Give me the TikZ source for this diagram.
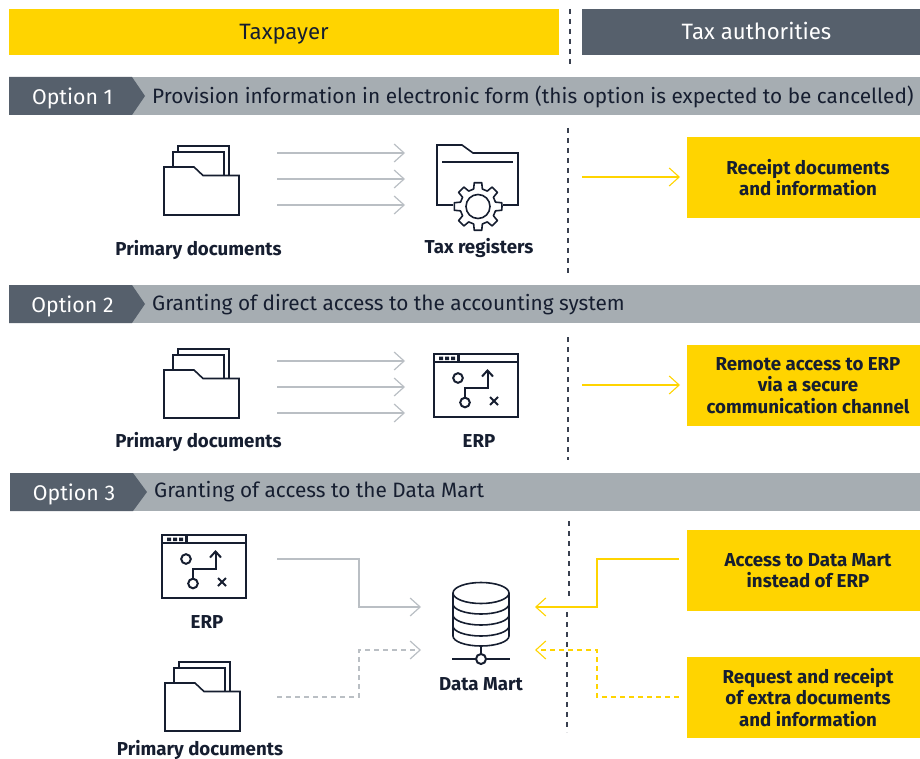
\documentclass[tikz,border=0pt]{standalone}
\usepackage{fontspec}
\setmainfont{Fira Sans}
\usepackage{tikz}
\usetikzlibrary{arrows.meta}
\definecolor{TaxYellow}{RGB}{255,212,0}
\definecolor{TaxDark}{RGB}{86,96,108}
\definecolor{TaxGrey}{RGB}{166,173,178}
\definecolor{TaxInk}{RGB}{22,30,48}
\definecolor{TaxLine}{RGB}{186,191,196}
\tikzset{
  hdr/.style={rectangle,minimum height=46pt,inner sep=0pt,text height=19pt,text depth=4pt,font=\fontsize{22.2}{24}\selectfont},
  bar/.style={rectangle,fill=TaxGrey,minimum height=38pt,inner sep=0pt},
  optlabel/.style={text=white,font=\fontsize{21.3}{24}\selectfont,inner sep=0pt},
  opttitle/.style={text=TaxInk,font=\fontsize{20.8}{24}\selectfont,inner sep=0pt,anchor=west},
  lbl/.style={text=TaxInk,font=\fontsize{18.7}{20}\selectfont\bfseries,inner sep=0pt},
  box/.style={rectangle,fill=TaxYellow,text=TaxInk,minimum width=233pt,minimum height=81pt,inner sep=0pt,align=center,font=\fontsize{18.7}{21.5}\selectfont\bfseries},
  sep/.style={TaxInk!85,line width=1.5pt,dash pattern=on 5pt off 5pt},
  flow/.style={TaxLine,line width=1.2pt,-{Straight Barb[length=10pt,width=18pt,line width=1.2pt]}},
  yflow/.style={TaxYellow,line width=1.1pt,-{Straight Barb[length=10pt,width=18pt,line width=1.1pt]}},
  icon/.style={TaxInk,line width=1.6pt},
  folderpic/.pic={
    \draw[icon] (14,8) -- (14,-21) -- (65,-21) -- (65,8);
    \draw[icon,fill=white] (9,8) -- (9,-15) -- (60,-15) -- (60,8);
    \draw[icon,fill=white] (0,48) -- (0,0) -- (30,0) -- (39,8.5) -- (75,8.5) -- (75,48) -- cycle;
  },
  erppic/.pic={
    \draw[icon,line width=2pt] (0,0) rectangle (84,63);
    \draw[icon,line width=2pt] (0,8) -- (84,8);
    \draw[icon,line width=3pt] (24,0) -- (24,8);
    \fill[TaxInk] (5,2.5) rectangle (9,6) (11,2.5) rectangle (15,6) (17,2.5) rectangle (21,6);
    \draw[icon,line width=2pt] (24,24) circle (4.8pt);
    \draw[icon,line width=2pt] (31,48.5) circle (4.8pt);
    \draw[icon,line width=2pt] (31,43.7) -- (31,33.5) -- (53.5,33.5) -- (53.5,17);
    \draw[icon,line width=2pt] (48,22.5) -- (53.5,16.5) -- (59,22.5);
    \draw[icon,line width=2pt] (56,43) -- (64,51) (56,51) -- (64,43);
  },
}
\begin{document}
\begin{tikzpicture}[x=1pt,y=-1pt]
  \useasboundingbox (0,0) rectangle (920,759);
  % header
  \node[hdr,fill=TaxYellow,minimum width=550pt,text=TaxInk] (taxpayer) at (284,32) {Taxpayer};
  \node[hdr,fill=TaxDark,minimum width=338pt,text=white] (authorities) at (751,32) {\hspace{11pt}Tax authorities};
  \coordinate (s0a) at (570,9); \coordinate (s0b) at (570,67);
  \draw[sep] (s0a) -- (s0b);
  % option bars
  \foreach \y/\n/\t in {96/1/Provision information in electronic form (this option is expected to be cancelled),304/2/Granting of direct access to the accounting system} {
    \node[bar,minimum width=911pt] (bar\n) at (464.5,\y) {};
    \fill[TaxDark] (9,\y-19) -- (132,\y-19) -- (145,\y) -- (132,\y+19) -- (9,\y+19) -- cycle;
    \node[optlabel] (opt\n) at (72.5,\y+2) {Option \n};
    \node[opttitle] (title\n) at (152,\y+1) {\t};
  }
  \node[bar,minimum width=910pt] (bar3) at (465,492) {};
  \fill[TaxDark] (10,473) -- (133,473) -- (147,492) -- (133,511) -- (10,511) -- cycle;
  \node[optlabel] (opt3) at (74,494) {Option 3};
  \node[opttitle] (title3) at (154,492) {Granting of access to the Data Mart};
  % option 1
  \pic at (164,167) {folderpic};
  \node[lbl] (prim1) at (198.5,249.5) {Primary documents};
  \foreach \y in {153,179,205} {
    \coordinate (a\y) at (277,\y); \coordinate (b\y) at (405,\y);
    \draw[flow] (a\y) -- (b\y);
  }
  \draw[icon] (453,205) -- (437,205) -- (437,145) -- (462,145) -- (473,153) -- (518,153) -- (518,205) -- (503,205);
  \draw[icon,line width=2.6pt] (442,162) -- (513,162);
  \begin{scope}[shift={(478,206.5)}]
    \draw[icon,fill=white,line join=round] (0:24) \foreach \a in {0,45,...,315} {
      -- (\a+9:24) -- (\a+14:18) -- (\a+31:18) -- (\a+36:24) } -- cycle;
    \draw[icon] (0,0) circle (12pt);
  \end{scope}
  \node[lbl] (reg) at (479,247.5) {Tax registers};
  \coordinate (s1a) at (568,128); \coordinate (s1b) at (568,275);
  \draw[sep] (s1a) -- (s1b);
  \coordinate (y1a) at (582,177); \coordinate (y1b) at (680,177);
  \draw[yflow] (y1a) -- (y1b);
  \node[box] (rec) at (803.5,177.5) {\hspace{9pt}Receipt documents\\\hspace{9pt}and information};
  % option 2
  \pic at (164,370) {folderpic};
  \node[lbl] (prim2) at (198.5,441.5) {Primary documents};
  \foreach \y in {361,387,413} {
    \coordinate (a\y) at (277,\y); \coordinate (b\y) at (405,\y);
    \draw[flow] (a\y) -- (b\y);
  }
  \pic at (434,354) {erppic};
  \node[lbl] (erp2) at (479,441.5) {ERP};
  \coordinate (s2a) at (568,337); \coordinate (s2b) at (568,460);
  \draw[sep] (s2a) -- (s2b);
  \coordinate (y2a) at (582,385); \coordinate (y2b) at (680,385);
  \draw[yflow] (y2a) -- (y2b);
  \node[box] (rem) at (803.5,385.5) {\hspace{9pt}Remote access to ERP\\\hspace{9pt}via a secure\\\hspace{9pt}communication channel};
  % option 3
  \pic at (162,535) {erppic};
  \node[lbl] (erp3) at (207,622) {ERP};
  \pic at (165,683) {folderpic};
  \node[lbl] (prim3) at (200,749.5) {Primary documents};
  \coordinate (e3) at (277,559); \coordinate (d3) at (421,607);
  \draw[flow] (e3) -- (359,559) -- (359,607) -- (d3);
  \coordinate (f3) at (277,697); \coordinate (g3) at (421,650);
  \draw[flow,dash pattern=on 5pt off 4pt] (f3) -- (359,697) -- (359,650) -- (g3);
  \coordinate (s3a) at (569,521); \coordinate (s3b) at (569,598);
  \draw[sep] (s3a) -- (s3b);
  \coordinate (s3c) at (567,612); \coordinate (s3d) at (567,732);
  \draw[sep] (s3c) -- (s3d);
  \node[box] (dm) at (803.5,570.5) {\hspace{9pt}Access to Data Mart\\\hspace{9pt}instead of ERP};
  \node[box] (req) at (803.5,697.5) {\hspace{9pt}Request and receipt\\\hspace{9pt}of extra documents\\\hspace{9pt}and information};
  \coordinate (h3) at (679,559); \coordinate (i3) at (535,607);
  \draw[yflow,line width=1.4pt] (h3) -- (597,559) -- (597,607) -- (i3);
  \coordinate (j3) at (679,697); \coordinate (k3) at (535,650);
  \draw[yflow,dash pattern=on 5pt off 4pt] (j3) -- (597,697) -- (597,650) -- (k3);
  % data mart
  \draw[icon] (453,593) -- (453,636) arc[start angle=180,end angle=360,x radius=28,y radius=-10] -- (509,593);
  \foreach \y in {604,615,626} {
    \draw[icon] (453,\y) arc[start angle=180,end angle=360,x radius=28,y radius=-10];
  }
  \draw[icon] (481,593) ellipse (28pt and 10.5pt);
  \draw[icon,line width=2.4pt] (481,646) -- (481,654) (452,659) -- (510,659);
  \draw[icon,line width=2pt,fill=white] (481,659) circle (5pt);
  \node[lbl] (mart) at (481,684) {Data Mart};
\end{tikzpicture}
\end{document}
